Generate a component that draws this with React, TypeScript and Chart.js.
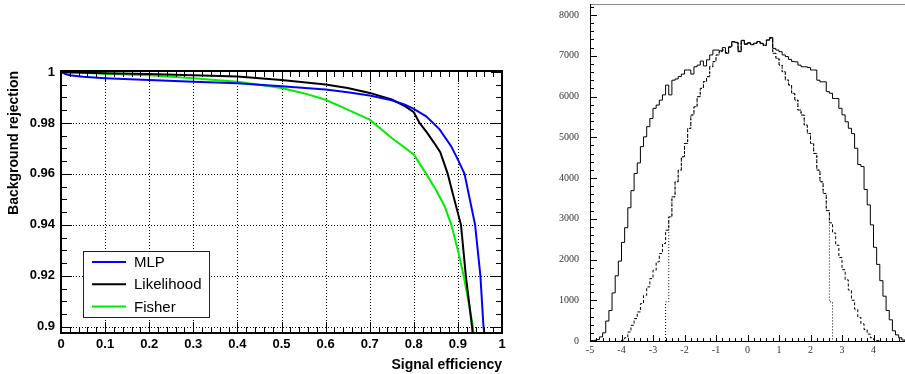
import React, { useEffect, useRef } from 'react';
import { Chart, registerables } from 'chart.js';

Chart.register(...registerables);

// ---------------- ROC curves (left panel) ----------------
const mlpEff = [0, 0.01, 0.02, 0.05, 0.1, 0.2, 0.3, 0.4, 0.5, 0.6, 0.65, 0.7, 0.75, 0.78, 0.8, 0.828, 0.858, 0.885, 0.9, 0.915, 0.939, 0.951, 0.958, 0.963];
const mlpRej = [1.0, 0.9992, 0.9987, 0.9981, 0.9976, 0.9969, 0.9962, 0.9956, 0.9944, 0.9931, 0.9921, 0.9908, 0.9889, 0.9872, 0.9855, 0.9826, 0.9776, 0.9708, 0.9656, 0.96, 0.94, 0.92, 0.9, 0.893];

const likEff = [0, 0.1, 0.2, 0.3, 0.4, 0.5, 0.6, 0.65, 0.7, 0.75, 0.78, 0.8, 0.813, 0.83, 0.846, 0.86, 0.877, 0.888, 0.907, 0.918, 0.932, 0.936];
const likRej = [1.0, 0.9995, 0.9992, 0.9987, 0.9982, 0.9969, 0.9951, 0.9937, 0.9918, 0.9892, 0.9866, 0.9842, 0.98, 0.9762, 0.9722, 0.9685, 0.96, 0.9525, 0.94, 0.92, 0.9, 0.893];

const fisEff = [0, 0.1, 0.2, 0.3, 0.4, 0.5, 0.55, 0.6, 0.65, 0.7, 0.75, 0.8, 0.828, 0.85, 0.87, 0.885, 0.9, 0.913, 0.924, 0.934, 0.937];
const fisRej = [1.0, 0.9993, 0.9987, 0.9976, 0.9962, 0.9937, 0.9917, 0.9891, 0.9852, 0.9813, 0.9741, 0.9676, 0.96, 0.9538, 0.9473, 0.94, 0.93, 0.92, 0.91, 0.9, 0.893];

const rocLabels = ['MLP', 'Likelihood', 'Fisher'];
const rocColors = ['#0000ff', '#000000', '#00ee00'];

const rocXTicks = [0, 0.1, 0.2, 0.3, 0.4, 0.5, 0.6, 0.7, 0.8, 0.9, 1];
const rocXTickLabels = ['0', '0.1', '0.2', '0.3', '0.4', '0.5', '0.6', '0.7', '0.8', '0.9', '1'];
const rocYTicks = [0.9, 0.92, 0.94, 0.96, 0.98, 1];
const rocYTickLabels = ['0.9', '0.92', '0.94', '0.96', '0.98', '1'];

// ---------------- Histograms (right panel) ----------------
const histLow = -5;
const histBinWidth = 0.1;

const solidCounts = [
  10, 15, 35, 100, 200, 490, 750, 1180, 1600, 1960,
  2420, 2780, 3270, 3690, 4110, 4370, 4770, 5010, 5260, 5460,
  5710, 5790, 5910, 6040, 6280, 6040, 6400, 6430, 6490, 6550,
  6650, 6650, 6550, 6730, 6770, 6870, 6750, 6900, 7020, 7140,
  7140, 7120, 7200, 7060, 7220, 7350, 7330, 7100, 7380, 7280,
  7320, 7270, 7310, 7350, 7300, 7260, 7390, 7450, 7180, 7140,
  7100, 7020, 6980, 6910, 6860, 6850, 6770, 6730, 6730, 6710,
  6650, 6650, 6400, 6360, 6360, 6120, 6080, 5950, 5950, 5710,
  5550, 5380, 5220, 5090, 4730, 4330, 4280, 3720, 3340, 2850,
  2300, 1880, 1480, 1100, 750, 520, 250, 150, 80, 25,
];

const dashedCounts = [
  0, 0, 0, 0, 0, 0, 0, 0, 0, 0,
  20, 82, 221, 385, 549, 713, 917, 1122, 1327, 1532,
  1736, 1941, 2146, 2391, 2719, 3047, 3538, 3907, 4193, 4521,
  4848, 5217, 5545, 5749, 5995, 6200, 6364, 6486, 6732, 6855,
  7019, 7101, 7142, 7080, 7210, 7340, 7320, 7110, 7370, 7290,
  7310, 7280, 7300, 7340, 7310, 7250, 7380, 7430, 7060, 6937,
  6773, 6609, 6405, 6282, 6077, 5913, 5667, 5545, 5299, 5094,
  4848, 4603, 4193, 3907, 3620, 3200, 2900, 2650, 2350, 2050,
  1750, 1500, 1250, 1000, 780, 580, 420, 280, 170, 80,
  30, 10, 0, 0, 0, 0, 0, 0, 0, 0,
];

const dottedCounts = [
  0, 0, 0, 0, 0, 0, 0, 0, 0, 0,
  0, 0, 0, 0, 0, 0, 0, 0, 0, 0,
  0, 0, 0, 0, 960, 3047, 3538, 3907, 4193, 4521,
  4848, 5217, 5545, 5749, 5995, 6200, 6364, 6486, 6732, 6855,
  7019, 7101, 7142, 7080, 7210, 7340, 7320, 7110, 7370, 7290,
  7310, 7280, 7300, 7340, 7310, 7250, 7380, 7430, 7060, 6937,
  6773, 6609, 6405, 6282, 6077, 5913, 5667, 5545, 5299, 5094,
  4848, 4603, 4193, 3907, 3620, 3200, 960, 0, 0, 0,
  0, 0, 0, 0, 0, 0, 0, 0, 0, 0,
  0, 0, 0, 0, 0, 0, 0, 0, 0, 0,
];

const histXTicks = [-5, -4, -3, -2, -1, 0, 1, 2, 3, 4];
const histXTickLabels = ['-5', '-4', '-3', '-2', '-1', '0', '1', '2', '3', '4'];
const histYTicks = [0, 1000, 2000, 3000, 4000, 5000, 6000, 7000, 8000];
const histYTickLabels = ['0', '1000', '2000', '3000', '4000', '5000', '6000', '7000', '8000'];

// ---------------- helpers ----------------
const toPoints = (xs: number[], ys: number[]) => xs.map((x, i) => ({ x, y: ys[i] }));

const histPoints = (counts: number[]) => {
  let f = 0;
  while (f < counts.length && counts[f] === 0) f++;
  let l = counts.length - 1;
  while (l > f && counts[l] === 0) l--;
  const edge = (i: number) => histLow + i * histBinWidth;
  const pts = [{ x: edge(f), y: 0 }];
  for (let i = f; i <= l; i++) pts.push({ x: edge(i), y: counts[i] });
  pts.push({ x: edge(l + 1), y: 0 });
  return pts;
};

const SANS = '"Liberation Sans", Arial, Helvetica, sans-serif';
const SERIF = '"Liberation Serif", "Times New Roman", serif';

const seg = (ctx: CanvasRenderingContext2D, x1: number, y1: number, x2: number, y2: number) => {
  ctx.beginPath();
  ctx.moveTo(x1, y1);
  ctx.lineTo(x2, y2);
  ctx.stroke();
};

const noPad = (s: any) => {
  s.paddingTop = 0;
  s.paddingBottom = 0;
  s.paddingLeft = 0;
  s.paddingRight = 0;
};

const rocDecor = {
  id: 'rocDecor',
  beforeDatasetsDraw(chart: any) {
    const { ctx, chartArea: a, scales } = chart;
    const x = scales.x, y = scales.y;
    ctx.save();
    ctx.strokeStyle = '#000';
    ctx.lineWidth = 1;
    ctx.setLineDash([1, 2]);
    for (const v of rocXTicks) {
      if (v <= 0 || v >= 1) continue;
      const px = Math.round(x.getPixelForValue(v)) + 0.5;
      seg(ctx, px, a.top, px, a.bottom);
    }
    for (const v of rocYTicks) {
      if (v >= 1) continue;
      const py = Math.round(y.getPixelForValue(v)) + 0.5;
      seg(ctx, a.left, py, a.right, py);
    }
    ctx.restore();
  },
  afterDatasetsDraw(chart: any) {
    const { ctx, chartArea: a, scales } = chart;
    const x = scales.x, y = scales.y;
    ctx.save();
    ctx.strokeStyle = '#000';
    ctx.lineWidth = 1;
    ctx.setLineDash([]);
    // x ticks (top & bottom, pointing inward)
    for (let k = 0; k <= 50; k++) {
      const px = Math.round(x.getPixelForValue(k * 0.02)) + 0.5;
      const len = k % 5 === 0 ? 11 : 6;
      seg(ctx, px, a.bottom, px, a.bottom - len);
      seg(ctx, px, a.top, px, a.top + len);
    }
    // y ticks (left & right)
    for (let k = 0; k <= 20; k++) {
      const py = Math.round(y.getPixelForValue(0.9 + k * 0.005)) + 0.5;
      const len = k % 4 === 0 ? 11 : 6;
      seg(ctx, a.left, py, a.left + len, py);
      seg(ctx, a.right, py, a.right - len, py);
    }
    // frame
    ctx.lineWidth = 2;
    ctx.strokeRect(a.left, a.top, a.right - a.left, a.bottom - a.top);

    // legend
    const lx = a.left + 22, ly = a.top + 180, lw = 126, lh = 66;
    ctx.fillStyle = '#fff';
    ctx.fillRect(lx, ly, lw, lh);
    ctx.lineWidth = 1;
    ctx.strokeStyle = '#222';
    ctx.strokeRect(lx + 0.5, ly + 0.5, lw, lh);
    ctx.font = `15px ${SANS}`;
    ctx.textBaseline = 'middle';
    ctx.textAlign = 'left';
    rocLabels.forEach((lab, i) => {
      const ry = ly + 11 + i * 22.3;
      ctx.strokeStyle = rocColors[i];
      ctx.lineWidth = 2;
      seg(ctx, lx + 9, ry, lx + 43, ry);
      ctx.fillStyle = '#000';
      ctx.fillText(lab, lx + 51, ry + 1);
    });
    ctx.restore();
  },
};

const histDecor = {
  id: 'histDecor',
  afterDatasetsDraw(chart: any) {
    const { ctx, chartArea: a, scales } = chart;
    const x = scales.x, y = scales.y;
    ctx.save();
    ctx.lineWidth = 1;
    ctx.setLineDash([]);
    // top border (gray)
    ctx.strokeStyle = '#8a8a8a';
    seg(ctx, a.left, a.top + 0.5, a.right, a.top + 0.5);
    ctx.strokeStyle = '#000';
    // left axis & bottom axis
    seg(ctx, a.left + 0.5, a.top, a.left + 0.5, a.bottom + 1);
    seg(ctx, a.left, a.bottom + 0.5, a.right, a.bottom + 0.5);
    // y ticks
    for (let k = 0; k <= 41; k++) {
      const py = Math.round(y.getPixelForValue(k * 200)) + 0.5;
      if (py < a.top) continue;
      const len = k % 5 === 0 ? 7 : 4;
      seg(ctx, a.left, py, a.left + len, py);
    }
    // x ticks
    for (let k = 0; k <= 50; k++) {
      const px = Math.round(x.getPixelForValue(-5 + k * 0.2)) + 0.5;
      const len = k % 5 === 0 ? 7 : 4;
      seg(ctx, px, a.bottom + 1, px, a.bottom + 1 - len);
    }
    ctx.restore();
  },
};

export default function App() {
  const leftRef = useRef<HTMLCanvasElement>(null);
  const rightRef = useRef<HTMLCanvasElement>(null);

  useEffect(() => {
    const tickFontBold = { family: SANS, size: 13, weight: 'bold' as const };
    const titleFont = { family: SANS, size: 14, weight: 'bold' as const };

    const left = new Chart(leftRef.current as HTMLCanvasElement, {
      type: 'scatter',
      data: {
        datasets: [
          { label: rocLabels[0], data: toPoints(mlpEff, mlpRej), borderColor: rocColors[0], borderWidth: 2, showLine: true, pointRadius: 0, tension: 0 },
          { label: rocLabels[1], data: toPoints(likEff, likRej), borderColor: rocColors[1], borderWidth: 2, showLine: true, pointRadius: 0, tension: 0 },
          { label: rocLabels[2], data: toPoints(fisEff, fisRej), borderColor: rocColors[2], borderWidth: 2, showLine: true, pointRadius: 0, tension: 0 },
        ],
      },
      options: {
        responsive: false,
        animation: false,
        layout: { padding: { top: 71, right: 38, left: 0, bottom: 0 } },
        plugins: { legend: { display: false }, tooltip: { enabled: false } },
        scales: {
          x: {
            type: 'linear',
            min: 0,
            max: 1,
            afterFit: (s: any) => { s.height = 41; noPad(s); },
            afterBuildTicks: (s: any) => { s.ticks = rocXTicks.map((v) => ({ value: v })); },
            ticks: {
              callback: (_v: any, i: number) => rocXTickLabels[i],
              font: tickFontBold,
              color: '#000',
              padding: 4,
              maxRotation: 0,
              autoSkip: false,
            },
            grid: { display: false, drawTicks: false },
            border: { display: false },
            title: { display: true, text: 'Signal efficiency', align: 'end', font: titleFont, color: '#000', padding: { top: 0, bottom: 0 } },
          },
          y: {
            type: 'linear',
            min: 0.89753,
            max: 1.0004,
            afterFit: (s: any) => { s.width = 61; noPad(s); },
            afterBuildTicks: (s: any) => { s.ticks = rocYTicks.map((v) => ({ value: v })); },
            ticks: {
              callback: (_v: any, i: number) => rocYTickLabels[i],
              font: tickFontBold,
              color: '#000',
              padding: 6,
              autoSkip: false,
            },
            grid: { display: false, drawTicks: false },
            border: { display: false },
            title: { display: true, text: 'Background rejection', align: 'end', font: titleFont, color: '#000', padding: { top: 6, bottom: 0 } },
          },
        },
      },
      plugins: [rocDecor],
    } as any);

    const serifTick = { family: SERIF, size: 10 };
    const right = new Chart(rightRef.current as HTMLCanvasElement, {
      type: 'scatter',
      data: {
        datasets: [
          { data: histPoints(solidCounts), borderColor: '#000', borderWidth: 1, showLine: true, stepped: 'before', pointRadius: 0 },
          { data: histPoints(dashedCounts), borderColor: '#000', borderWidth: 1, borderDash: [3, 2], showLine: true, stepped: 'before', pointRadius: 0 },
          { data: histPoints(dottedCounts), borderColor: '#000', borderWidth: 1, borderDash: [1, 2], showLine: true, stepped: 'before', pointRadius: 0 },
        ],
      },
      options: {
        responsive: false,
        animation: false,
        layout: { padding: { top: 4, right: 0, left: 0, bottom: 0 } },
        plugins: { legend: { display: false }, tooltip: { enabled: false } },
        scales: {
          x: {
            type: 'linear',
            min: -5,
            max: 5,
            afterFit: (s: any) => { s.height = 33; noPad(s); },
            afterBuildTicks: (s: any) => { s.ticks = histXTicks.map((v) => ({ value: v })); },
            ticks: {
              callback: (_v: any, i: number) => histXTickLabels[i],
              font: serifTick,
              color: '#333',
              padding: 3,
              maxRotation: 0,
              autoSkip: false,
            },
            grid: { display: false, drawTicks: false },
            border: { display: false },
          },
          y: {
            type: 'linear',
            min: 0,
            max: 8270,
            afterFit: (s: any) => { s.width = 50; noPad(s); },
            afterBuildTicks: (s: any) => { s.ticks = histYTicks.map((v) => ({ value: v })); },
            ticks: {
              callback: (_v: any, i: number) => histYTickLabels[i],
              font: serifTick,
              color: '#333',
              padding: 11,
              autoSkip: false,
            },
            grid: { display: false, drawTicks: false },
            border: { display: false },
          },
        },
      },
      plugins: [histDecor],
    } as any);

    return () => {
      left.destroy();
      right.destroy();
    };
  }, []);

  return (
    <div style={{ position: 'absolute', left: 0, top: 0, width: 905, height: 374, background: '#fff', overflow: 'hidden' }}>
      <canvas ref={leftRef} width={540} height={374} style={{ position: 'absolute', left: 0, top: 0, display: 'block' }} />
      <canvas ref={rightRef} width={365} height={374} style={{ position: 'absolute', left: 540, top: 0, display: 'block' }} />
    </div>
  );
}
